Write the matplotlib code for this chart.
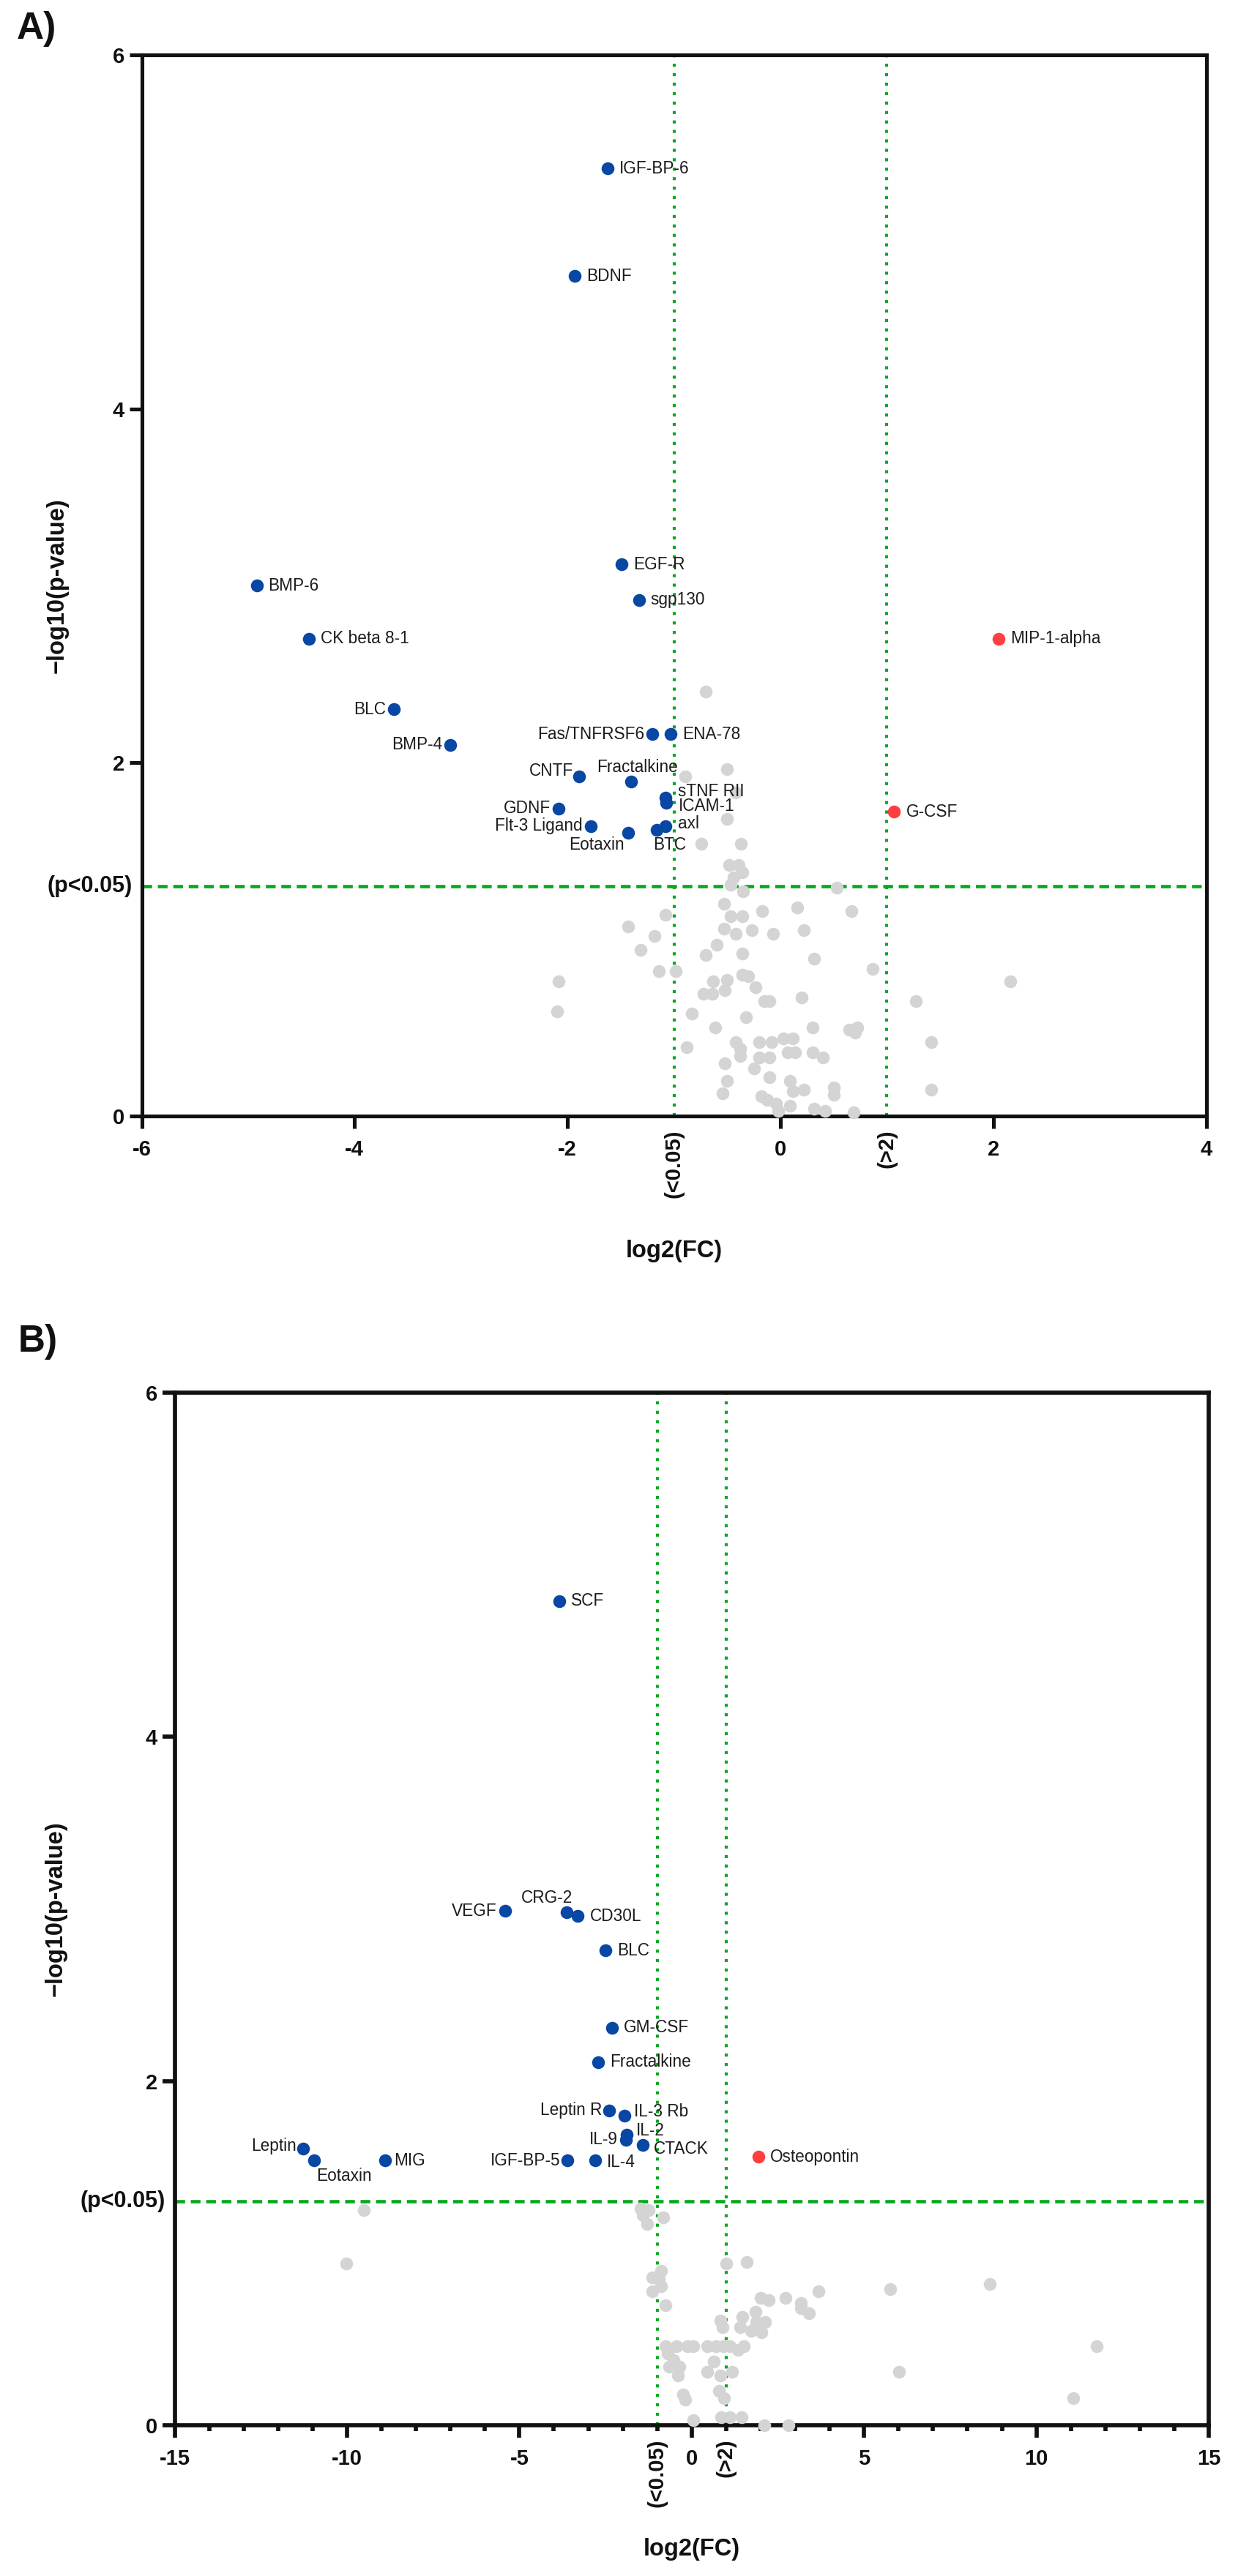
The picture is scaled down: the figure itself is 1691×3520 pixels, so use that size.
import matplotlib
matplotlib.use('Agg')
import matplotlib.pyplot as plt
from matplotlib.ticker import MultipleLocator, FixedLocator

plt.rcParams['font.family'] = ['Liberation Sans', 'DejaVu Sans']
plt.rcParams['axes.unicode_minus'] = False

# ---------------- Panel A data ----------------
a_grey_x = [-0.70, -0.50, -0.89, -0.42, -0.50, -0.74, -0.37, -0.48, -0.39, -0.36,
            -0.44, -0.47, -0.35, 0.53, -0.53, -0.17, 0.16, 0.67, -1.08, -0.47,
            -0.36, -1.43, -1.18, -0.53, -0.42, -0.27, -0.07, 0.22, -0.60, -1.31,
            -0.70, -0.36, 0.32, 0.87, -1.14, -0.98, -2.08, -2.10, 2.16, -0.63,
            -0.50, -0.36, -0.30, -0.23, -0.72, -0.64, -0.52, -0.15, -0.10, 0.20,
            1.27, -0.83, -0.32, -0.61, 0.30, 0.65, 0.72, 0.70, 1.42, -0.88,
            -0.42, -0.38, -0.38, -0.20, -0.08, 0.03, 0.12, 0.07, 0.14, 0.30,
            0.40, -0.20, -0.10, -0.52, -0.25, -0.10, -0.50, 0.09, -0.54, 0.12,
            0.22, 0.50, 0.50, 1.42, -0.18, -0.12, -0.04, -0.02, 0.09, 0.32,
            0.42, 0.69]
a_grey_y = [2.40, 1.96, 1.92, 1.83, 1.68, 1.54, 1.54, 1.42, 1.42, 1.38,
            1.35, 1.31, 1.27, 1.29, 1.20, 1.16, 1.18, 1.16, 1.14, 1.13,
            1.13, 1.07, 1.02, 1.06, 1.03, 1.05, 1.03, 1.05, 0.97, 0.94,
            0.91, 0.92, 0.89, 0.83, 0.82, 0.82, 0.76, 0.59, 0.76, 0.76,
            0.77, 0.80, 0.79, 0.73, 0.69, 0.69, 0.71, 0.65, 0.65, 0.67,
            0.65, 0.58, 0.56, 0.50, 0.50, 0.49, 0.50, 0.47, 0.42, 0.39,
            0.42, 0.38, 0.34, 0.42, 0.42, 0.44, 0.44, 0.36, 0.36, 0.36,
            0.33, 0.33, 0.33, 0.30, 0.27, 0.22, 0.20, 0.20, 0.13, 0.14,
            0.15, 0.16, 0.12, 0.15, 0.11, 0.09, 0.07, 0.03, 0.06, 0.04,
            0.03, 0.02]

a_down_names = ['IGF-BP-6', 'BDNF', 'EGF-R', 'sgp130', 'BMP-6', 'CK beta 8-1', 'BLC',
                'BMP-4', 'Fas/TNFRSF6', 'ENA-78', 'CNTF', 'Fractalkine', 'sTNF RII',
                'ICAM-1', 'GDNF', 'Flt-3 Ligand', 'axl', 'BTC', 'Eotaxin']
a_down_x = [-1.62, -1.93, -1.49, -1.33, -4.92, -4.43, -3.63, -3.10, -1.20, -1.03,
            -1.89, -1.40, -1.08, -1.07, -2.08, -1.78, -1.08, -1.16, -1.43]
a_down_y = [5.36, 4.75, 3.12, 2.92, 3.00, 2.70, 2.30, 2.10, 2.16, 2.16,
            1.92, 1.89, 1.80, 1.77, 1.74, 1.64, 1.64, 1.62, 1.60]

a_up_names = ['MIP-1-alpha', 'G-CSF']
a_up_x = [2.05, 1.07]
a_up_y = [2.70, 1.72]

# ---------------- Panel B data ----------------
b_grey_x = [-1.49, -1.25, -1.42, -1.30, -0.82, 1.01, 1.60, -0.89, -1.14, -0.95,
            -0.88, -1.14, -0.75, 3.68, 5.77, 2.00, 2.24, 2.72, 3.16, 3.16,
            3.40, 1.85, 1.46, 2.12, 0.84, 0.89, 1.40, 1.73, 2.02, 1.88,
            -0.75, -0.44, -0.12, 0.05, 0.46, 0.71, 0.92, 1.10, 1.51,
            1.35, -0.70, -0.53, -0.65, -0.35, -0.39, 0.65, 0.46, 0.83, 1.17, 6.02,
            -0.26, -0.19, 0.78, 0.94, 0.04, 0.85, 1.10, 1.45, 2.10, 2.80,
            8.64, 11.76, 11.07, -9.52, -10.02]
b_grey_y = [1.26, 1.25, 1.22, 1.17, 1.21, 0.94, 0.95, 0.90, 0.86, 0.85,
            0.81, 0.78, 0.70, 0.78, 0.79, 0.74, 0.73, 0.74, 0.71, 0.68,
            0.65, 0.66, 0.63, 0.60, 0.61, 0.57, 0.57, 0.55, 0.54, 0.60,
            0.46, 0.46, 0.46, 0.46, 0.46, 0.46, 0.46, 0.46, 0.46,
            0.44, 0.42, 0.38, 0.34, 0.34, 0.29, 0.37, 0.31, 0.29, 0.31, 0.31,
            0.18, 0.15, 0.20, 0.16, 0.03, 0.05, 0.05, 0.05, 0.00, 0.00,
            0.82, 0.46, 0.16, 1.25, 0.94]

b_down_names = ['SCF', 'VEGF', 'CRG-2', 'CD30L', 'BLC', 'GM-CSF', 'Fractalkine',
                'Leptin R', 'IL-3 Rb', 'IL-2', 'IL-9', 'CTACK', 'IGF-BP-5', 'IL-4',
                'Leptin', 'Eotaxin', 'MIG']
b_down_x = [-3.85, -5.41, -3.62, -3.30, -2.50, -2.32, -2.71, -2.39, -1.95, -1.88,
            -1.90, -1.42, -3.60, -2.79, -11.27, -10.96, -8.90]
b_down_y = [4.79, 2.99, 2.98, 2.96, 2.76, 2.31, 2.11, 1.83, 1.80, 1.69,
            1.66, 1.63, 1.54, 1.54, 1.61, 1.54, 1.54]

b_up_names = ['Osteopontin']
b_up_x = [1.93]
b_up_y = [1.56]

P_CUT = 1.301  # -log10(0.05)
FC_LO, FC_HI = -1, 1

# ---------------- label layout (offset in points, ha) ----------------
R = (11.5, 0, 'left')
L = (-8, 0, 'right')
a_label_pos = {
    'IGF-BP-6': R, 'BDNF': R, 'EGF-R': R, 'sgp130': R, 'BMP-6': R, 'CK beta 8-1': R,
    'BLC': L, 'BMP-4': L, 'Fas/TNFRSF6': L, 'ENA-78': R,
    'CNTF': (-5.5, 5.7, 'right'), 'Fractalkine': (6, 14.6, 'center'),
    'sTNF RII': (12, 6.5, 'left'), 'ICAM-1': (12, -3, 'left'), 'GDNF': L,
    'Flt-3 Ligand': L, 'axl': (12, 2.4, 'left'), 'BTC': (12.5, -15.4, 'center'),
    'Eotaxin': (-3.5, -11.3, 'right'), 'MIP-1-alpha': R, 'G-CSF': R,
}
b_label_pos = {
    'SCF': R, 'VEGF': L, 'CRG-2': (-20, 14.6, 'center'), 'CD30L': R, 'BLC': R,
    'GM-CSF': R, 'Fractalkine': R, 'Leptin R': (-7, 0, 'right'),
    'IL-3 Rb': (9.4, 4, 'left'), 'IL-2': (9.4, 4, 'left'), 'IL-9': L,
    'CTACK': (11, -4, 'left'), 'IGF-BP-5': (-7, 0, 'right'), 'IL-4': (11, -1.6, 'left'),
    'Leptin': (-7, 2.4, 'right'), 'Eotaxin': (2.3, -15.4, 'left'), 'MIG': (8.6, 0, 'left'),
    'Osteopontin': R,
}

GREY = '#d4d4d4'
BLUE = '#0847a3'
RED = '#ff3f3f'
GREEN = '#06a81e'
TXT = '#1c1c1c'

W, H = 1691, 3520
fig = plt.figure(figsize=(W / 100, H / 100), dpi=100)
axA = fig.add_axes([193.5 / W, 1 - 1525 / H, 1454 / W, 1449.6 / H])
axB = fig.add_axes([238.6 / W, 1 - 3314.3 / H, 1412.4 / W, 1411.3 / H])


def panel(ax, gx, gy, dn, dx, dy, un, ux, uy, lpos, xlim, xmajor, minor, lw,
          ylab_x, xlab_y):
    ax.set_xlim(*xlim)
    ax.set_ylim(0, 6)
    ax.axhline(P_CUT, color=GREEN, lw=3.3, linestyle=(0, (2.9, 1.7)), zorder=1)
    for v in (FC_LO, FC_HI):
        ax.axvline(v, color=GREEN, lw=3.0, linestyle=(0, (1, 2.1)), zorder=1)
    ax.scatter(gx, gy, s=160, color=GREY, linewidths=0, zorder=3, clip_on=False)
    ax.scatter(dx, dy, s=160, color=BLUE, linewidths=0, zorder=4, clip_on=False)
    ax.scatter(ux, uy, s=160, color=RED, linewidths=0, zorder=4, clip_on=False)
    for names, xs, ys in ((dn, dx, dy), (un, ux, uy)):
        for n, x, y in zip(names, xs, ys):
            ox, oy, ha = lpos[n]
            ax.annotate(n, (x, y), xytext=(ox, oy), textcoords='offset points',
                        ha=ha, va='center', fontsize=16.3, color=TXT, zorder=5)
    for s in ax.spines.values():
        s.set_linewidth(lw)
        s.set_color('#111111')
    ax.xaxis.set_major_locator(FixedLocator(xmajor))
    ax.yaxis.set_major_locator(FixedLocator([0, 2, 4, 6]))
    if minor:
        ax.xaxis.set_minor_locator(MultipleLocator(1))
    ax.tick_params(axis='both', which='major', length=12, width=lw, color='#111111',
                   labelsize=21, labelcolor='#111111')
    ax.tick_params(axis='x', which='major', pad=11)
    ax.tick_params(axis='y', which='major', pad=5)
    ax.tick_params(axis='x', which='minor', length=6, width=lw, color='#111111')
    for t in ax.get_xticklabels() + ax.get_yticklabels():
        t.set_fontweight('bold')
    ax.annotate('(p<0.05)', (0, P_CUT), xycoords=('axes fraction', 'data'),
                xytext=(-9, 0), textcoords='offset points', ha='right', va='center',
                fontsize=22, fontweight='bold', color='#111111')
    ax.annotate('(<0.05)', (FC_LO, 0), xycoords=('data', 'axes fraction'),
                xytext=(0, -13), textcoords='offset points', ha='center', va='top',
                rotation=90, fontsize=21, fontweight='bold', color='#111111')
    ax.annotate('(>2)', (FC_HI, 0), xycoords=('data', 'axes fraction'),
                xytext=(0, -13), textcoords='offset points', ha='center', va='top',
                rotation=90, fontsize=21, fontweight='bold', color='#111111')
    ax.text(ylab_x, 0.5, '−log10(p-value)', transform=ax.transAxes, rotation=90,
            ha='center', va='center', fontsize=23.5, fontweight='bold', color='#111111')
    ax.text(0.5, xlab_y, 'log2(FC)', transform=ax.transAxes,
            ha='center', va='center', fontsize=23.5, fontweight='bold', color='#111111')


panel(axA, a_grey_x, a_grey_y, a_down_names, a_down_x, a_down_y,
      a_up_names, a_up_x, a_up_y, a_label_pos, (-6, 4), [-6, -4, -2, 0, 2, 4],
      False, 3.7, -0.0794, -0.1276)
panel(axB, b_grey_x, b_grey_y, b_down_names, b_down_x, b_down_y,
      b_up_names, b_up_x, b_up_y, b_label_pos, (-15, 15), [-15, -10, -5, 0, 5, 10, 15],
      True, 4.1, -0.1151, -0.12)

fig.text(23 / W, 1 - 40 / H, 'A)', ha='left', va='center', fontsize=37,
         fontweight='bold', color='#111111')
fig.text(25 / W, 1 - 1833 / H, 'B)', ha='left', va='center', fontsize=37,
         fontweight='bold', color='#111111')

fig.savefig('out.png', dpi=100, facecolor='white')
